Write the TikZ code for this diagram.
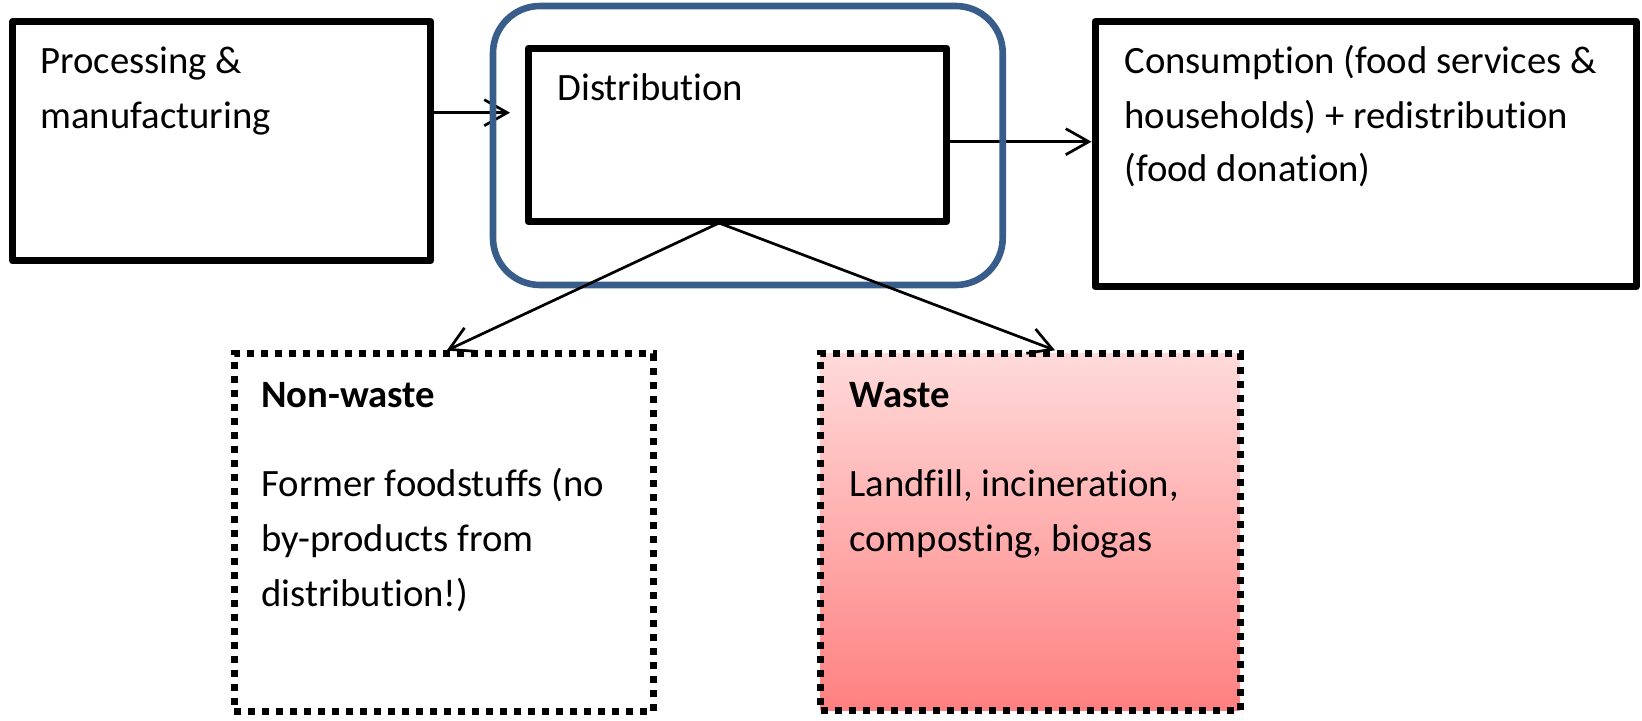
\documentclass[tikz,border=0pt]{standalone}
\usepackage{fontspec}
\setmainfont{Carlito}[Ligatures=NoCommon]
\usetikzlibrary{arrows.meta}
\definecolor{bluecol}{RGB}{56,93,138}
\definecolor{wtop}{RGB}{255,218,218}
\definecolor{wbot}{RGB}{255,128,128}
\begin{document}
\begin{tikzpicture}[x=0.5pt,y=-0.5pt,
  box/.style={draw,line width=3.5pt,line join=round,inner sep=0pt,rectangle},
  dotbox/.style={draw,line width=3.5pt,dash pattern=on 3.5pt off 3.5pt,inner sep=0pt,rectangle},
  bluebox/.style={draw=bluecol,line width=3.3pt,rounded corners=23.5pt,inner sep=0pt,rectangle},
  lbl/.style={inner sep=0pt,anchor=base west,font=\fontsize{19.35pt}{27.5pt}\selectfont},
  lblb/.style={inner sep=0pt,anchor=base west,font=\fontsize{19.35pt}{27.5pt}\selectfont\bfseries},
  arr/.style={line width=1.35pt,-{Straight Barb[length=11.5pt,width=13pt]}}]
\useasboundingbox (0,0) rectangle (1642,721);
% boxes
\node[box,minimum width=209pt,minimum height=119.6pt] (proc) at (221.7,141.35) {};
\node[box,minimum width=209.2pt,minimum height=86.7pt] (dist) at (737.5,135) {};
\node[box,minimum width=270.5pt,minimum height=132.5pt] (cons) at (1365.5,154.2) {};
\node[dotbox,minimum width=209.65pt,minimum height=178.85pt] (nw) at (443.65,532.85) {};
\node[dotbox,top color=wtop,bottom color=wbot,minimum width=209.65pt,minimum height=178.5pt] (w) at (1030.35,532.25) {};
% texts
\node[lbl] (tproc1) at (40,74) {Processing \&};
\node[lbl] (tproc2) at (40,129) {manufacturing};
\node[lbl] (tdist) at (557,100.7) {Distribution};
\node[lbl] (tcons1) at (1124,73.3) {Consumption (food services \&};
\node[lbl] (tcons2) at (1124,129) {households) + redistribution};
\node[lbl] (tcons3) at (1124,181.7) {(food donation)};
\node[lblb] (tnw) at (261,407.7) {Non-waste};
\node[lbl] (tnw1) at (261,496.7) {Former foodstuffs (no};
\node[lbl] (tnw2) at (261,551.7) {by-products from};
\node[lbl] (tnw3) at (261,606.7) {distribution!)};
\node[lblb] (tw) at (849,407.7) {Waste};
\node[lbl] (tw1) at (849,496.7) {Landfill, incineration,};
\node[lbl] (tw2) at (849,551.7) {composting, biogas};
% horizontal arrows
\coordinate (pin) at (510,112.7);
\draw[arr] (proc.east |- pin) -- (pin);
\coordinate (dc) at (1000,141.7);
\draw[arr] (dist.east |- dc) -- (cons.west |- dc);
% blue rounded frame
\node[bluebox,minimum width=254.85pt,minimum height=139.5pt] (blue) at (747.85,145.5) {};
% diagonal arrows
\coordinate (src) at (719,223);
\coordinate (tnwc) at (446.7,0);
\coordinate (twc) at (1055,0);
\draw[arr] (src) -- (nw.north -| tnwc);
\draw[arr] (src) -- (w.north -| twc);
\end{tikzpicture}
\end{document}
